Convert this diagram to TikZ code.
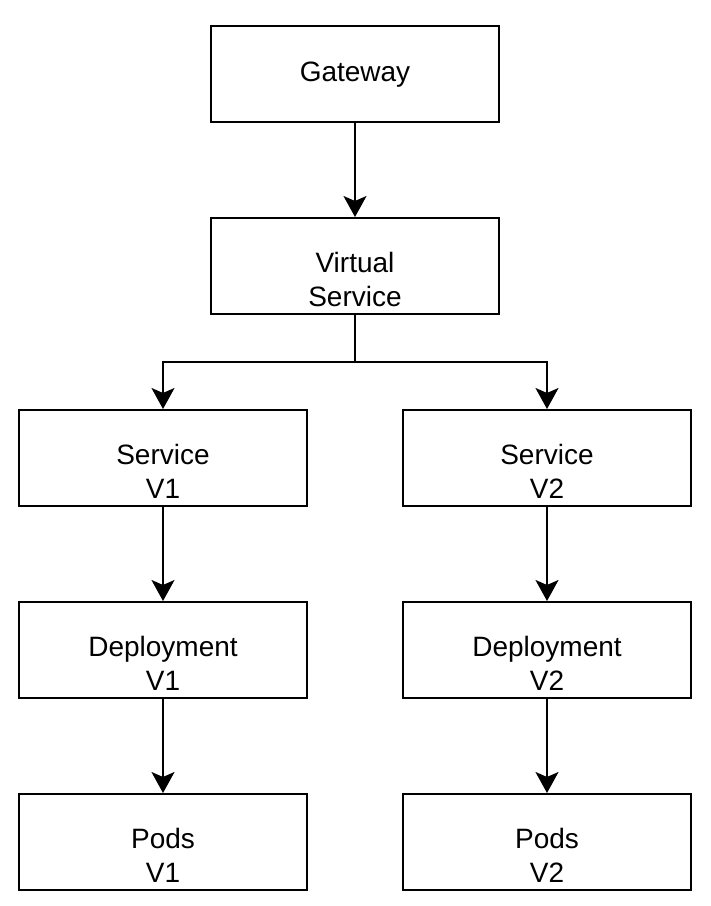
\documentclass[tikz,border=0pt]{standalone}
\usepackage{fontspec}
\setmainfont{Liberation Sans}
\usetikzlibrary{arrows.meta,positioning}

\begin{document}
\begin{tikzpicture}[
            node distance=94pt and 94pt,
            box/.style={rectangle, draw, line width=2pt, minimum width=288pt, minimum height=96pt, inner sep=0pt},
            txt/.style={font=\fontsize{28}{33.6}\selectfont, align=center, inner sep=0pt, anchor=north, yshift=-35pt, execute at begin node=\strut},
            arrow/.style={-{Stealth[length=21pt, width=23pt, inset=5pt]}, line width=2pt}
        ]
            \useasboundingbox (0,0) rectangle (711pt,-906pt);

            % --- ENTRADA ---
            \node[box, label={[txt, yshift=2pt]north:Gateway}] (gateway) at (355pt,-74pt) {};
            \node[box, below=of gateway, label={[txt]north:Virtual\\Service}] (virtual) {};

            % --- RAMO V1 ---
            \node[box, below=of virtual, xshift=-192pt, label={[txt]north:Service\\V1}] (svc1) {};
            \node[box, below=of svc1, label={[txt]north:Deployment\\V1}] (dep1) {};
            \node[box, below=of dep1, label={[txt]north:Pods\\V1}] (pods1) {};

            % --- RAMO V2 ---
            \node[box, below=of virtual, xshift=192pt, label={[txt]north:Service\\V2}] (svc2) {};
            \node[box, below=of svc2, label={[txt]north:Deployment\\V2}] (dep2) {};
            \node[box, below=of dep2, label={[txt]north:Pods\\V2}] (pods2) {};

            % --- LIGAÇÕES ---
            \draw[arrow] (gateway.south) -- (virtual.north);
            \draw[arrow] (virtual.south) -- ++(0,-47pt) -| (svc1.north);
            \draw[arrow] (virtual.south) -- ++(0,-47pt) -| (svc2.north);
            \draw[arrow] (svc1.south) -- (dep1.north);
            \draw[arrow] (dep1.south) -- (pods1.north);
            \draw[arrow] (svc2.south) -- (dep2.north);
            \draw[arrow] (dep2.south) -- (pods2.north);

        \end{tikzpicture}
\end{document}
